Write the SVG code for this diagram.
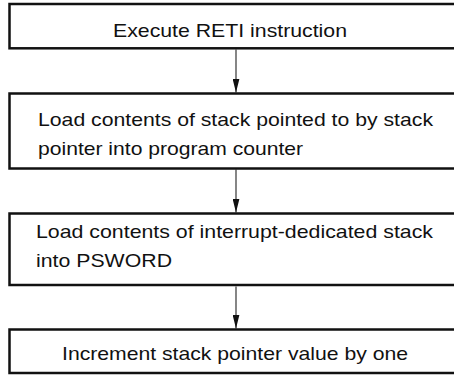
<svg xmlns="http://www.w3.org/2000/svg" width="454" height="375" viewBox="0 0 454 375">
<defs>
<style>
.box{fill:#fff;stroke:#111;stroke-width:2.5}
.t{font-family:"Liberation Sans",Arial,sans-serif;font-size:18.5px;fill:#111}
.c{stroke:#222;stroke-width:1.1;fill:none}
</style>
<marker id="ah" viewBox="0 0 14 7" refX="14" refY="3.5" markerWidth="14" markerHeight="7" markerUnits="userSpaceOnUse" orient="auto">
<path d="M0,0 L14,3.5 L0,7 Z" fill="#111"/>
</marker>
</defs>
<rect width="454" height="375" fill="#fff"/>
<g id="connectors">
<line class="c" x1="236" y1="49.5" x2="236" y2="92.5" marker-end="url(#ah)"/>
<line class="c" x1="236" y1="169.5" x2="236" y2="212.5" marker-end="url(#ah)"/>
<line class="c" x1="236" y1="286.5" x2="236" y2="328.5" marker-end="url(#ah)"/>
</g>
<g id="n1">
<rect class="box" x="9.5" y="4" width="460" height="44.3"/>
<text class="t" x="113" y="37.3" textLength="234" lengthAdjust="spacingAndGlyphs">Execute RETI instruction</text>
</g>
<g id="n2">
<rect class="box" x="9.5" y="93.5" width="460" height="75"/>
<text class="t" x="38" y="125.5" textLength="395" lengthAdjust="spacingAndGlyphs">Load contents of stack pointed to by stack</text>
<text class="t" x="38" y="154.5" textLength="265" lengthAdjust="spacingAndGlyphs">pointer into program counter</text>
</g>
<g id="n3">
<rect class="box" x="9.5" y="213.5" width="460" height="71.5"/>
<text class="t" x="36" y="237.5" textLength="397" lengthAdjust="spacingAndGlyphs">Load contents of interrupt-dedicated stack</text>
<text class="t" x="36" y="266.5" textLength="136" lengthAdjust="spacingAndGlyphs">into PSWORD</text>
</g>
<g id="n4">
<rect class="box" x="9.5" y="329.5" width="460" height="43.5"/>
<text class="t" x="62" y="360" textLength="346" lengthAdjust="spacingAndGlyphs">Increment stack pointer value by one</text>
</g>
</svg>
